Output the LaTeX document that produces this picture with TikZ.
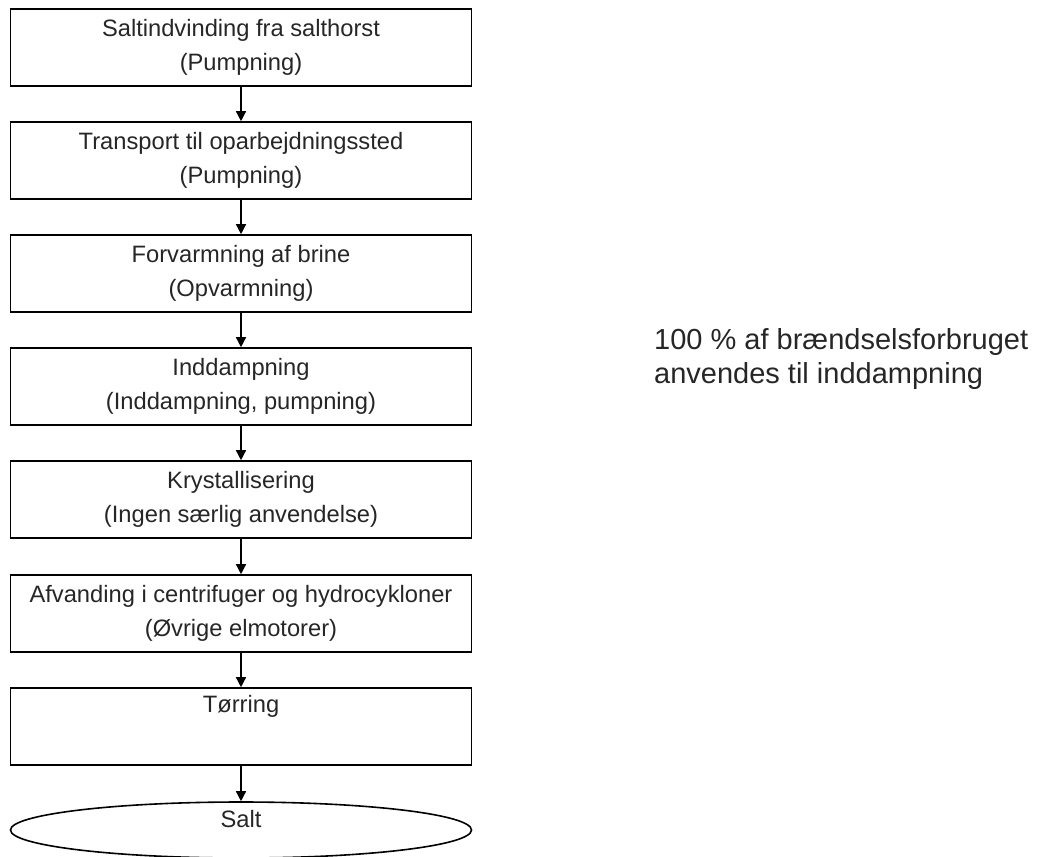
\documentclass[tikz,border=0pt]{standalone}
\usepackage{fontspec}
\setmainfont{Liberation Sans}
\usetikzlibrary{arrows.meta,shapes.geometric}
\definecolor{ink}{HTML}{262626}
\begin{document}
\begin{tikzpicture}[x=1pt,y=-1pt,
  every node/.style={text=ink},
  boxtext/.style={font=\fontsize{23.7}{34}\selectfont},
  notetext/.style={font=\fontsize{29}{34}\selectfont},
  stepbox/.style={boxtext, draw=black, line width=1.6pt, rectangle,
    minimum width=461pt, minimum height=77pt, inner sep=0pt, align=center},
  endshape/.style={draw=black, line width=1.6pt, ellipse,
    minimum width=461pt, minimum height=56pt, inner sep=0pt},
  flow/.style={-{Triangle[length=10pt,width=10pt]}, line width=1.4pt, draw=black}]
\useasboundingbox (0,0) rectangle (1040,856);
% process steps, top to bottom
\node[stepbox] (b1) at (241,47.5) {Saltindvinding fra salthorst\\(Pumpning)};
\node[stepbox] (b2) at (241,160.5) {Transport til oparbejdningssted\\(Pumpning)};
\node[stepbox] (b3) at (241,273.5) {Forvarmning af brine\\(Opvarmning)};
\node[stepbox] (b4) at (241,386.5) {Inddampning\\(Inddampning, pumpning)};
\node[stepbox] (b5) at (241,499.5) {Krystallisering\\(Ingen særlig anvendelse)};
\node[stepbox] (b6) at (241,613.5) {Afvanding i centrifuger og hydrocykloner\\(Øvrige elmotorer)};
\node[stepbox] (b7) at (241,726.5) {Tørring\\\strut};
% end product
\node[endshape] (salt) at (241,830) {};
\node[boxtext, anchor=base] (saltlabel) at (241,827) {Salt};
% side remark
\node[notetext, anchor=base west, inner sep=0pt] (note1) at (654,349) {100 \% af brændselsforbruget};
\node[notetext, anchor=base west, inner sep=0pt] (note2) at (654,383) {anvendes til inddampning};
% flow arrows
\draw[flow] (b1) -- (b2);
\draw[flow] (b2) -- (b3);
\draw[flow] (b3) -- (b4);
\draw[flow] (b4) -- (b5);
\draw[flow] (b5) -- (b6);
\draw[flow] (b6) -- (b7);
\draw[flow] (b7) -- (salt);
\end{tikzpicture}
\end{document}
